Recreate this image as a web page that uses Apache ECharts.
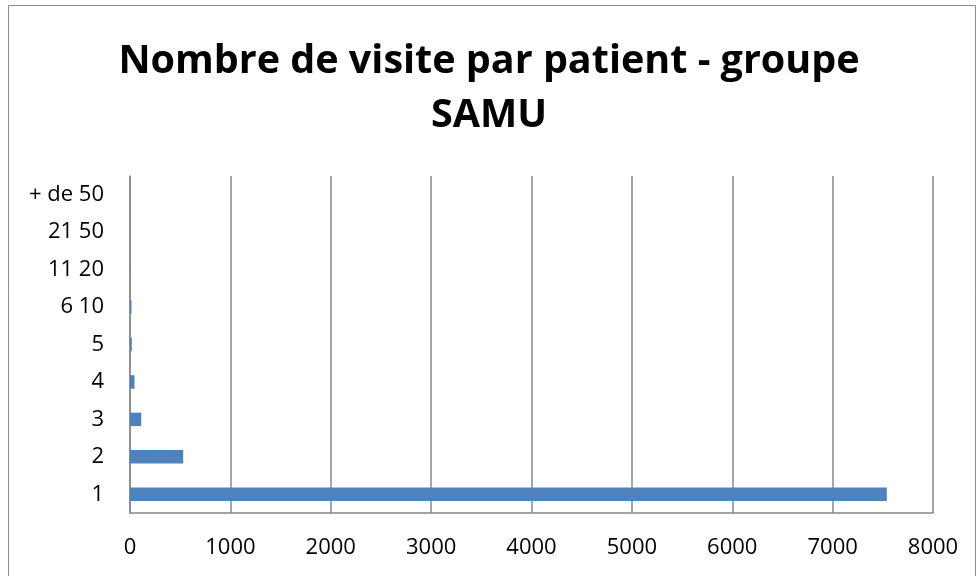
<!DOCTYPE html>
<html>
<head>
<meta charset="utf-8">
<script src="https://cdn.jsdelivr.net/npm/echarts@6/dist/echarts.min.js"></script>
<style>
    html, body { margin: 0; padding: 0; background: #fff; }
    #chart { width: 978px; height: 576px; }
</style>
</head>
<body>
<div id="chart"></div>
<script>
const categories = ['1', '2', '3', '4', '5', '6 10', '11 20', '21 50', '+ de 50']
const visits = [7540, 530, 112, 45, 18, 15, 5, 2, 0]
const xTicks = [0, 1000, 2000, 3000, 4000, 5000, 6000, 7000, 8000]

const chart = echarts.init(document.getElementById('chart'), null, { renderer: 'canvas' })

const font = '"Open Sans", "Liberation Sans", sans-serif'

chart.setOption({
    animation: false,
    backgroundColor: '#fff',
    title: {
        text: 'Nombre de visite par patient - groupe\nSAMU',
        left: 'center',
        top: 30,
        textStyle: {
            fontFamily: font,
            fontWeight: 'bold',
            fontSize: 39.5,
            color: '#000',
            lineHeight: 54,
        },
    },
    graphic: [
        {
            type: 'rect',
            shape: { x: 8.5, y: 5.5, width: 967, height: 580 },
            style: { fill: 'none', stroke: '#8c8c8c', lineWidth: 1 },
            silent: true,
        },
    ],
    grid: {
        left: 130,
        right: 45,
        top: 176,
        bottom: 63,
    },
    xAxis: {
        type: 'value',
        min: xTicks[0],
        max: xTicks[xTicks.length - 1],
        interval: 1000,
        axisLine: { show: true, lineStyle: { color: '#888', width: 1.5 } },
        axisTick: { show: false },
        splitLine: { show: true, lineStyle: { color: '#888', width: 1.5 } },
        axisLabel: {
            fontFamily: font,
            fontSize: 22,
            color: '#000',
            margin: 24,
            formatter: (v) => String(v),
        },
    },
    yAxis: {
        type: 'category',
        data: categories,
        axisLine: { show: true, lineStyle: { color: '#888', width: 1.5 } },
        axisTick: { show: false },
        splitLine: { show: false },
        axisLabel: {
            fontFamily: font,
            fontSize: 22,
            color: '#000',
            margin: 26,
        },
    },
    series: [
        {
            type: 'bar',
            data: visits,
            barCategoryGap: '64%',
            itemStyle: { color: '#4F81BD' },
        },
    ],
})
</script>
</body>
</html>
